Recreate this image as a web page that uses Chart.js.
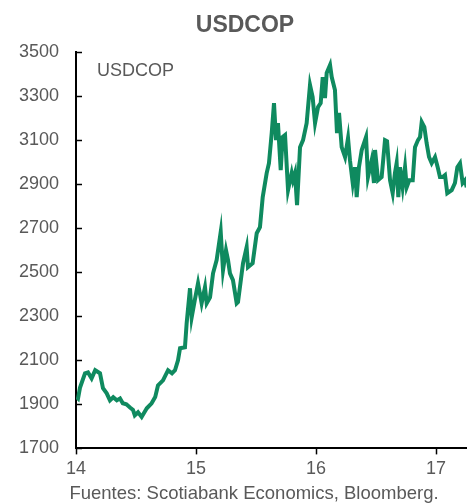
<!DOCTYPE html>
<html lang="es">
  <head>
    <meta charset="UTF-8" />
    <title>USDCOP</title>
    <script src="https://cdn.jsdelivr.net/npm/chart.js"></script>
    <style>
      body { margin: 0; background: #fff; }
    </style>
  </head>
  <body>
    <canvas id="usdcopChart" width="473" height="504"></canvas>
    <script>
      // fecha en años (14 = 2014) y valor del USDCOP
      const years = [
        14.006, 14.017, 14.033, 14.075, 14.1, 14.13, 14.16, 14.2, 14.225, 14.256,
        14.283, 14.31, 14.34, 14.367, 14.39, 14.42, 14.45, 14.475, 14.49, 14.517,
        14.547, 14.59, 14.63, 14.66, 14.683, 14.725, 14.767, 14.8, 14.825, 14.85,
        14.867, 14.908, 14.922, 14.95, 14.964, 14.99, 15.017, 15.047, 15.075, 15.089,
        15.117, 15.142, 15.172, 15.206, 15.225, 15.25, 15.267, 15.283, 15.308, 15.339,
        15.35, 15.381, 15.392, 15.422, 15.433, 15.472, 15.506, 15.533, 15.556, 15.589,
        15.608, 15.631, 15.65, 15.667, 15.683, 15.706, 15.722, 15.742, 15.767, 15.797,
        15.808, 15.825, 15.842, 15.867, 15.892, 15.922, 15.95, 15.972, 15.992, 16.017,
        16.039, 16.056, 16.075, 16.089, 16.117, 16.131, 16.158, 16.175, 16.192, 16.214,
        16.242, 16.267, 16.283, 16.306, 16.325, 16.339, 16.358, 16.381, 16.417, 16.433,
        16.464, 16.483, 16.492, 16.517, 16.547, 16.575, 16.592, 16.617, 16.639, 16.658,
        16.672, 16.686, 16.7, 16.722, 16.742, 16.756, 16.778, 16.806, 16.825, 16.85,
        16.867, 16.881, 16.903, 16.922, 16.942, 16.964, 16.992, 17.014, 17.033, 17.056,
        17.075, 17.094, 17.131, 17.158, 17.178, 17.2, 17.222, 17.242, 17.256
      ];
      const usdcop = [
        1933, 1927, 1975, 2041, 2045, 2018, 2055, 2041, 1973, 1950,
        1918, 1932, 1918, 1927, 1905, 1900, 1886, 1875, 1850, 1864,
        1843, 1882, 1905, 1933, 1986, 2009, 2055, 2041, 2055, 2100,
        2155, 2159, 2268, 2427, 2295, 2373, 2450, 2359, 2432, 2359,
        2386, 2495, 2555, 2683, 2509, 2600, 2555, 2495, 2464, 2359,
        2365, 2495, 2541, 2614, 2523, 2541, 2677, 2705, 2841, 2950,
        2995, 3132, 3268, 3100, 3177, 2964, 3114, 3123, 2873, 2950,
        2918, 2950, 2805, 3068, 3100, 3177, 3350, 3295, 3177, 3250,
        3268, 3386, 3291, 3405, 3441, 3386, 3327, 3132, 3223, 3068,
        3023, 3109, 3009, 2905, 2977, 2841, 2977, 3055, 3114, 2932,
        3009, 2905, 3055, 2918, 2932, 3100, 3095, 2918, 2859, 2950,
        2995, 2841, 2977, 2886, 2977, 2886, 2918, 2918, 3068, 3100,
        3114, 3182, 3159, 3086, 3023, 2995, 3023, 2977, 2932, 2932,
        2941, 2859, 2873, 2905, 2977, 2995, 2905, 2918, 2886
      ];
      const xTicks = [14, 15, 16, 17];
      const yTicks = [1700, 1900, 2100, 2300, 2500, 2700, 2900, 3100, 3300, 3500];

      const gray = "#595959";
      const fontFamily = "'Liberation Sans', Arial, sans-serif";

      // título, marcas del eje y hacia dentro, etiqueta de la serie y fuente
      const extras = {
        id: "extras",
        afterDraw(chart) {
          const { ctx, chartArea, scales } = chart;
          ctx.save();
          ctx.strokeStyle = "#000";
          ctx.lineWidth = 1.5;
          yTicks.forEach((v) => {
            const y = Math.round(scales.y.getPixelForValue(v)) + 0.5;
            ctx.beginPath();
            ctx.moveTo(chartArea.left, y);
            ctx.lineTo(chartArea.left + 6, y);
            ctx.stroke();
          });
          ctx.fillStyle = gray;
          ctx.textBaseline = "middle";
          ctx.textAlign = "center";
          ctx.font = "bold 23px " + fontFamily;
          ctx.fillText("USDCOP", 245, 26);
          ctx.font = "18px " + fontFamily;
          ctx.textAlign = "left";
          ctx.fillText("USDCOP", chartArea.left + 21, 71);
          ctx.font = "18.5px " + fontFamily;
          ctx.textAlign = "center";
          ctx.fillText("Fuentes: Scotiabank Economics, Bloomberg.", 254, 494);
          ctx.restore();
        },
      };

      new Chart(document.getElementById("usdcopChart"), {
        type: "line",
        data: {
          datasets: [
            {
              label: "USDCOP",
              data: years.map((x, i) => ({ x: x, y: usdcop[i] })),
              borderColor: "#0f8a5f",
              borderWidth: 4,
              pointRadius: 0,
              tension: 0,
              fill: false,
            },
          ],
        },
        options: {
          responsive: false,
          animation: false,
          layout: { padding: { left: 0, right: 7, top: 52, bottom: 20 } },
          plugins: {
            legend: { display: false },
            tooltip: { enabled: false },
            title: { display: false },
          },
          scales: {
            x: {
              type: "linear",
              min: 14,
              max: 17.25,
              afterBuildTicks: (scale) => {
                scale.ticks = xTicks.map((v) => ({ value: v }));
              },
              grid: {
                drawOnChartArea: false,
                drawTicks: true,
                tickLength: 6,
                tickColor: "#000",
                tickWidth: 1.5,
              },
              border: { display: true, color: "#000", width: 2 },
              ticks: {
                color: gray,
                padding: 4,
                maxRotation: 0,
                font: { family: fontFamily, size: 18 },
                callback: (v) => v,
              },
            },
            y: {
              min: 1700,
              max: 3500,
              afterBuildTicks: (scale) => {
                scale.ticks = yTicks.map((v) => ({ value: v }));
              },
              afterFit: (scale) => {
                scale.width = 76;
              },
              grid: { display: false, drawTicks: false },
              border: { display: true, color: "#000", width: 2 },
              ticks: {
                color: gray,
                padding: 17,
                font: { family: fontFamily, size: 18 },
                callback: (v) => v,
              },
            },
          },
        },
        plugins: [extras],
      });
    </script>
  </body>
</html>
